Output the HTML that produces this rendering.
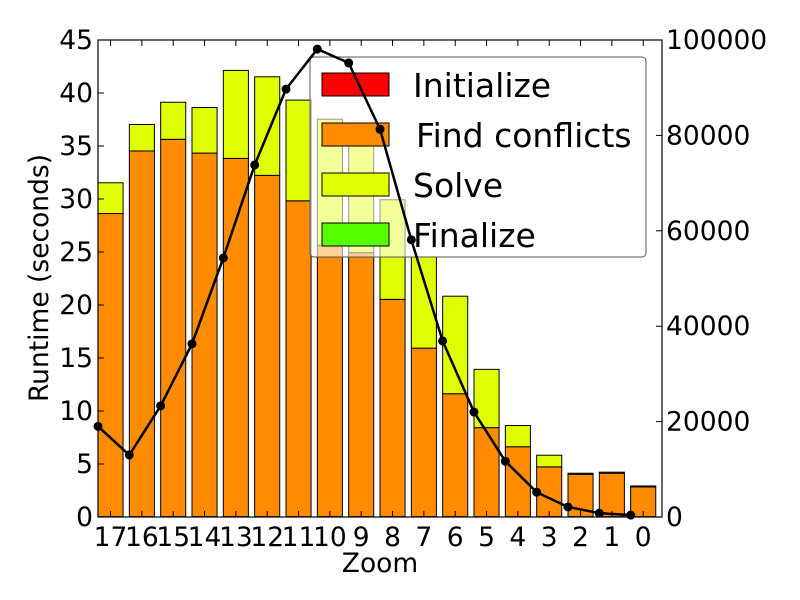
<!DOCTYPE html>
<html><head><meta charset="utf-8"><style>body{margin:0;background:#fff}svg{display:block;font-family:"DejaVu Sans","Liberation Sans",sans-serif}</style></head>
<body>
<svg id="c" width="800" height="600" xmlns="http://www.w3.org/2000/svg"></svg>
<script>
const categories=["17","16","15","14","13","12","11","10","9","8","7","6","5","4","3","2","1","0"];
const initialize=[0.03,0.03,0.03,0.03,0.03,0.03,0.03,0.03,0.03,0.03,0.03,0.03,0.03,0.03,0.03,0.03,0.03,0.03];
const findConflicts=[28.6,34.5,35.6,34.3,33.8,32.2,29.8,25.6,24.9,20.5,15.9,11.6,8.4,6.6,4.7,4.0,4.1,2.8];
const solve=[2.9,2.5,3.5,4.3,8.3,9.3,9.5,11.9,10.9,9.4,8.6,9.2,5.5,2.0,1.1,0.1,0.1,0.1];
const finalize=[0,0,0,0,0,0,0,0,0,0,0,0,0,0,0,0,0,0];
const tileCounts=[19000,13000,23300,36300,54300,73800,89700,98100,95200,81300,58100,36900,22000,11700,5200,2100,800,400];
const leftTicks=[0,5,10,15,20,25,30,35,40,45];
const rightTicks=[0,20000,40000,60000,80000,100000];
const L=98,R=662,T=40,B=517,slot=(R-L)/categories.length,bw=slot*0.8;
const yL=v=>B-v/45*(B-T), yR=v=>B-v/100000*(B-T), xs=i=>L+i*slot;
const svg=document.getElementById('c');const NS='http://www.w3.org/2000/svg';
function mk(t,a,p){const e=document.createElementNS(NS,t);for(const k in a)e.setAttribute(k,a[k]);(p||svg).appendChild(e);return e;}
const segs=[[initialize,'#ff0000','initialize'],[findConflicts,'#ff8c00','find-conflicts'],[solve,'#e0ff00','solve'],[finalize,'#55ff00','finalize']];
categories.forEach((c,i)=>{let base=0;segs.forEach(([arr,col,n])=>{const v=arr[i];if(v>0){const r=mk('rect',{x:xs(i),y:yL(base+v),width:bw,height:yL(base)-yL(base+v),fill:col,stroke:'#000','stroke-width':1});

}base+=v;});});
const lg=mk('g',{});


mk('rect',{x:310,y:57,width:336,height:200,rx:4,fill:'#fff','fill-opacity':0.6,stroke:'#555','stroke-width':1},lg);
const names=['Initialize','Find conflicts','Solve','Finalize'];
names.forEach((n,k)=>{const y=73+k*50;mk('rect',{x:322,y:y,width:67,height:23,fill:segs[k][1],stroke:'#000'},lg);const t=mk('text',{x:k==1?416:413,y:y+24,'font-size':33},lg);t.textContent=n;

});
let d='';tileCounts.forEach((v,i)=>{d+=(i?'L':'M')+xs(i)+' '+yR(v);});
const ln=mk('path',{d:d,fill:'none',stroke:'#000','stroke-width':2.5});


tileCounts.forEach((v,i)=>{const p=mk('circle',{cx:xs(i),cy:yR(v),r:4.5,fill:'#000'});

});
const fr=mk('rect',{x:L,y:T,width:R-L,height:B-T,fill:'none',stroke:'#000','stroke-width':1.2});


leftTicks.forEach(v=>{const y=yL(v);mk('line',{x1:L,x2:L+6,y1:y,y2:y,stroke:'#000'});const t=mk('text',{x:L-5,y:y+9,'text-anchor':'end','font-size':26.5});t.textContent=v;

});
rightTicks.forEach(v=>{const y=yR(v);mk('line',{x1:R-6,x2:R,y1:y,y2:y,stroke:'#000'});const t=mk('text',{x:R+4,y:y+9,'font-size':26.5});t.textContent=v;

});
categories.forEach((c,i)=>{const x=xs(i)+bw/2;mk('line',{x1:x,x2:x,y1:B,y2:B-6,stroke:'#000'});mk('line',{x1:x,x2:x,y1:T,y2:T+6,stroke:'#000'});const t=mk('text',{x:x,y:B+29,'text-anchor':'middle','font-size':26.5});t.textContent=c;

});
const xt=mk('text',{x:380,y:572,'text-anchor':'middle','font-size':26.5});xt.textContent='Zoom';


const yt=mk('text',{x:48,y:278,'text-anchor':'middle','font-size':26.5,transform:'rotate(-90 48 278)'});yt.textContent='Runtime (seconds)';


</script>
</body></html>
